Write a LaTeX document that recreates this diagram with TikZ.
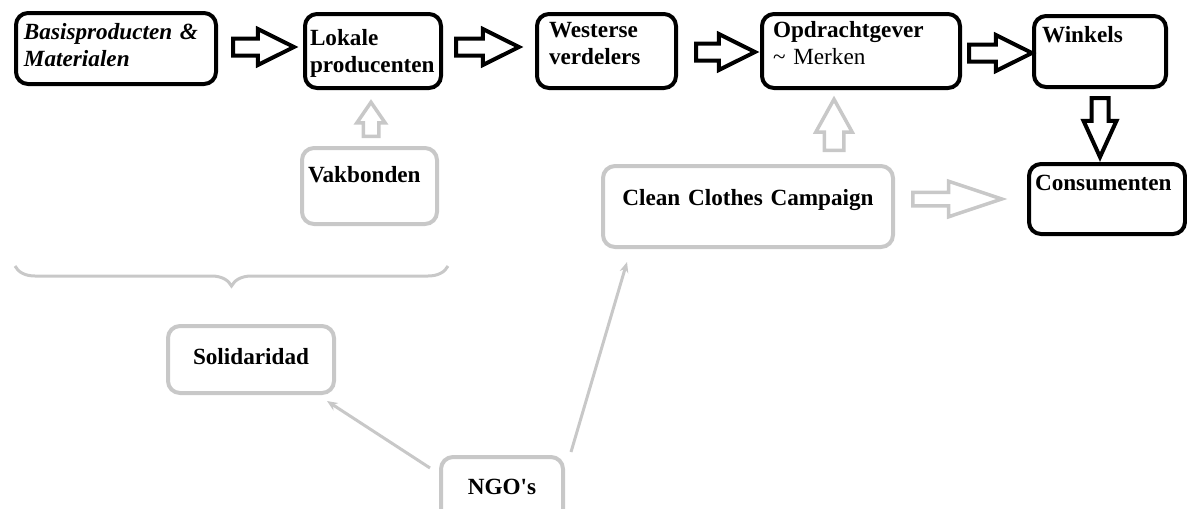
\documentclass[tikz,border=0pt]{standalone}
\usepackage{fontspec}
\setmainfont{Liberation Serif}
\usetikzlibrary{calc}
\usetikzlibrary{shapes.arrows}
\usetikzlibrary{arrows.meta}
\usetikzlibrary{decorations.pathreplacing}
\newdimen\px \px=0.02cm
\definecolor{ngogray}{RGB}{200,200,200}

\tikzset{
  chain/.style={draw=black, line width=4\px, rounded corners=12\px, anchor=north west,
    inner sep=0pt, inner xsep=8\px, align=left, font=\bfseries\fontsize{13.2}{15.5}\selectfont},
  ngo/.style={chain, draw=ngogray},
  dims/.style n args={3}{text width=#1\px, text height=#2\px, text depth=#3\px},
  blackarr/.style={draw=black, line width=4\px, inner ysep=6.5\px,
    single arrow head extend=9.5\px, single arrow tip angle=53},
  greyarr/.style={draw=ngogray, line width=3.5\px},
  fat/.style={to path={let \p1=(\tikztostart), \p2=(\tikztotarget),
    \n1={veclen(\x2-\x1,\y2-\y1)}, \n2={atan2(\y2-\y1,\x2-\x1)} in
    node[single arrow, fill=white, inner sep=0pt, #1, minimum height=\n1, rotate=\n2, anchor=tail]
      at (\p1) {}}},
  thinarr/.style={draw=ngogray, line width=3\px, -{Stealth[length=6pt, width=5pt]}}
}

\begin{document}
\begin{tikzpicture}[x=1\px, y=-1\px]
\clip (0,0) rectangle (1187,508);
\node[chain, dims={184}{26}{45}]				(basis)		at (14,11)		{\itshape Basisproducten \&\\\itshape Materialen};
\node[chain, inner xsep=5\px, dims={126}{31}{43}]	(lokale)	at (303,12)		{Lokale\\producenten};
\node[chain, inner xsep=12\px, dims={115}{23}{51}]	(wester)	at (535,12)		{Westerse\\verdelers};
\node[chain, inner xsep=11\px, dims={176}{23}{51}]	(opdr)		at (760,12)		{Opdrachtgever\\{\mdseries\textasciitilde{} Merken}};
\node[chain, dims={116}{26}{45}]				(winkels)	at (1032,14)	{Winkels};
\node[chain, inner xsep=6\px, dims={144}{26}{44}]	(cons)		at (1027,162)	{Consumenten};
\node[ngo, inner xsep=6\px, dims={123}{34}{42}]		(vak)		at (300,146)	{Vakbonden};
\node[ngo, align=center, dims={274}{39}{42}]		(ccc)		at (601,164)	{Clean Clothes Campaign};
\node[ngo, align=center, dims={150}{38}{29}]		(soli)		at (166,324)	{Solidaridad};
\node[ngo, align=center, dims={106}{37}{33}]		(ngos)		at (439,455)	{NGO\textquotesingle s};

\draw[fat=blackarr] ($(basis.east)+(13,-1.5)$) to ($(lokale.west|-basis.east)+(-11,-1.5)$);
\draw[fat=blackarr] ($(lokale.east)+(11,-4)$) to ($(wester.west|-lokale.east)+(-18,-4)$);
\draw[fat=blackarr] ($(wester.east)+(16,1)$) to ($(opdr.west|-wester.east)+(-7,1)$);
\draw[fat=blackarr] ($(opdr.east)+(5,2)$) to ($(winkels.west|-opdr.east)+(-2,2)$);
\draw[fat={blackarr, single arrow head extend=8\px, single arrow tip angle=49}]
	($(winkels.south)+(0,7)$) to ($(winkels.south|-cons.north)+(0,-7)$);
\draw[fat={greyarr, inner ysep=6\px, single arrow head extend=6.5\px, single arrow tip angle=69}]
	($(vak.north)+(1.5,-8)$) to ($(vak.north|-lokale.south)+(1.5,14)$);
\draw[fat={greyarr, inner ysep=8\px, single arrow head extend=8.5\px, single arrow tip angle=58}]
	($(ccc.north east)+(-61,-12)$) to ($(ccc.north east|-opdr.south)+(-61,11)$);
\draw[fat={greyarr, inner ysep=5\px, single arrow head extend=11\px, single arrow tip angle=37}]
	($(ccc.east)+(16,-7.5)$) to ($(cons.west|-ccc.east)+(-27,-7.5)$);

\draw[thinarr] ($(ngos.north west)+(-9,13)$) -- ($(soli.south east)+(-9,6)$);
\draw[thinarr] ($(ngos.north east)+(6,-3)$) -- ($(ccc.south west)+(26,13)$);

\draw[ngogray, line width=3\px, decorate, decoration={brace, mirror, amplitude=20\px}]
	(15,266) -- (448,266);
\end{tikzpicture}
\end{document}
